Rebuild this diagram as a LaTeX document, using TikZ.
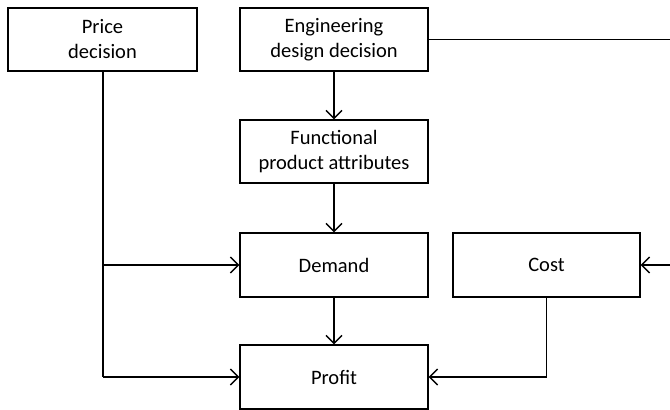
\documentclass[tikz,border=0pt]{standalone}
\usepackage{fontspec}
\setmainfont{Carlito}
\usetikzlibrary{arrows.meta}
\begin{document}
\begin{tikzpicture}[x=1pt,y=-1pt,
  blk/.style={draw, line width=1.4pt, minimum width=188pt, minimum height=63pt,
    align=center, font=\fontsize{20.5}{25}\selectfont, inner sep=0pt},
  link/.style={line width=1.4pt, -{Straight Barb[length=8pt,width=16pt,line width=1.4pt]}},
  plain/.style={line width=1.4pt}]
  \useasboundingbox (0,0) rectangle (670,410);
  \node[blk, minimum width=189pt] (price) at (102.5,39.5) {Price\\decision};
  \node[blk] (eng) at (334,39.5) {Engineering\\design decision};
  \node[blk] (func) at (334,151.5) {Functional\\product attributes};
  \node[blk, minimum height=64pt] (demand) at (334,265) {Demand};
  \node[blk, minimum height=64pt, minimum width=187pt] (cost) at (546.5,265) {Cost};
  \node[blk, minimum height=64pt] (profit) at (334,377) {Profit};
  \coordinate (engout) at (670,39.5);
  \coordinate (costin) at (670,265);
  \coordinate (pricecorner) at (103,377);
  \coordinate (costcorner) at (546.5,377);
  \draw[plain] (eng.east) -- (engout);
  \draw[link] (costin) -- (cost.east);
  \draw[link] (eng) -- (func);
  \draw[link] (func) -- (demand);
  \draw[link] (demand) -- (profit);
  \draw[plain] (price.south -| pricecorner) -- (pricecorner);
  \draw[link] (pricecorner) -- (profit.west);
  \draw[link] (price.south -| pricecorner) |- (demand.west);
  \draw[link] (cost.south) -- (costcorner) -- (profit.east);
\end{tikzpicture}
\end{document}
